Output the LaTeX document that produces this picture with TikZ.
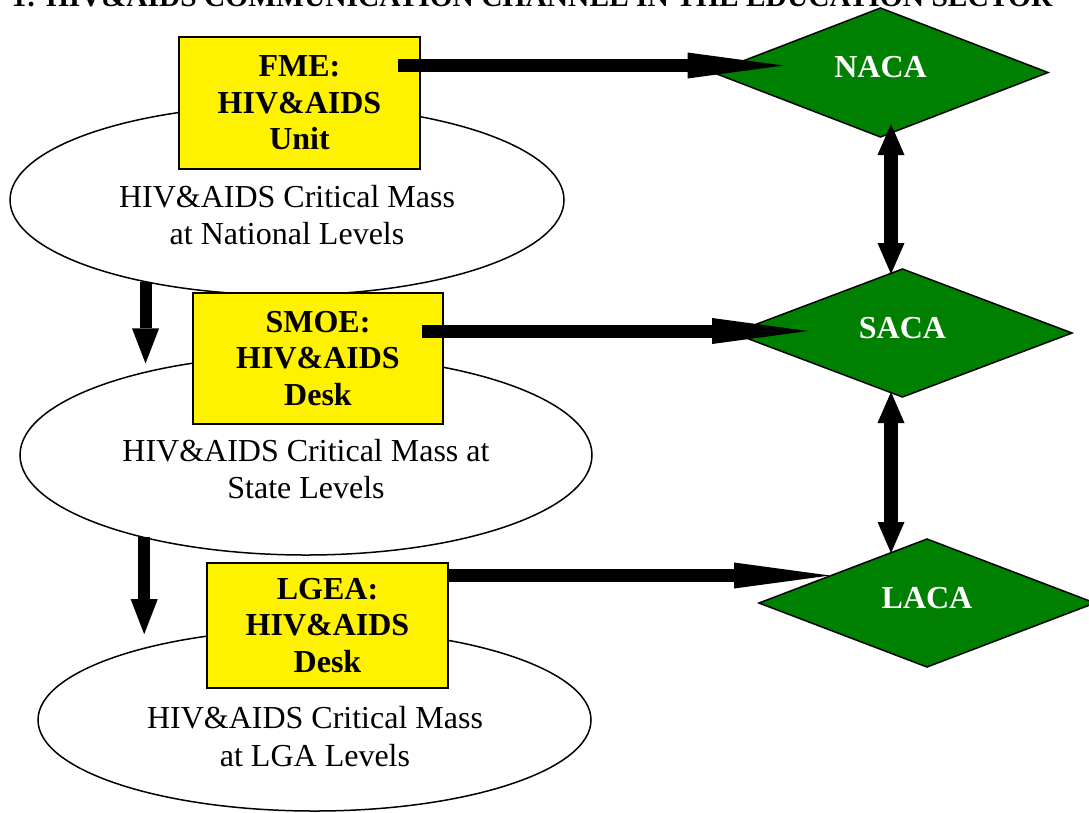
\documentclass[tikz,border=0pt]{standalone}
\usepackage{fontspec}
\setmainfont{Liberation Serif}
\usetikzlibrary{shapes.geometric,arrows.meta,calc}
\definecolor{dgreen}{RGB}{0,128,0}
\begin{document}
\begin{tikzpicture}[x=1pt,y=-1pt,
 ybox/.style={draw=black,fill=yellow,line width=1.5pt,inner sep=0pt,outer sep=0pt,align=center,font=\fontsize{32}{36.5}\selectfont\bfseries},
 ell/.style={draw=black,fill=white,ellipse,line width=1.5pt,inner sep=0pt,outer sep=0pt},
 etext/.style={align=center,font=\fontsize{32}{37.5}\selectfont},
 dia/.style={diamond,draw=black,fill=dgreen,line width=1.5pt,inner sep=0pt,outer sep=0pt,text=white,font=\fontsize{32}{36}\selectfont\bfseries,text depth=11pt},
 harrow/.style={line width=13pt,-{Triangle[length=96pt,width=26pt,line width=0pt]}},
 darrow/.style={line width=14pt,{Triangle[length=31pt,width=27pt,line width=0pt]}-{Triangle[length=31pt,width=27pt,line width=0pt]}},
 varrow/.style={line width=12pt,-{Triangle[length=35pt,width=27pt,line width=0pt]}},
]
\useasboundingbox (0,0) rectangle (1089,812);
\clip (0,0) rectangle (1089,812);

% title (clipped at the top edge, as in the reference)
\node[font=\fontsize{29.5}{30}\selectfont\bfseries,anchor=base,inner sep=0pt] (title) at (532,6) {1: HIV\&AIDS COMMUNICATION CHANNEL IN THE EDUCATION SECTOR};

% ellipses
\node[ell,minimum width=554pt,minimum height=190pt] (e1) at (287,200) {};
\node[ell,minimum width=572pt,minimum height=200pt] (e2) at (306,455) {};
\node[ell,minimum width=553pt,minimum height=182pt] (e3) at (314.5,720) {};
\node[etext] (t1) at (287,215) {HIV\&AIDS Critical Mass\\at National Levels};
\node[etext] (t2) at (306,469) {HIV\&AIDS Critical Mass at\\State Levels};
\node[etext] (t3) at (315,736.5) {HIV\&AIDS Critical Mass\\at LGA Levels};

% yellow boxes
\node[ybox,minimum width=241pt,minimum height=132pt] (b1) at (299.5,103) {FME:\\HIV\&AIDS\\Unit};
\node[ybox,minimum width=250pt,minimum height=131pt] (b2) at (318,358.5) {SMOE:\\HIV\&AIDS\\Desk};
\node[ybox,minimum width=241pt,minimum height=125pt] (b3) at (327.5,625.5) {LGEA:\\HIV\&AIDS\\Desk};

% diamonds
\node[dia,minimum width=335pt,minimum height=129pt] (naca) at (880.5,72.5) {NACA};
\node[dia,minimum width=339pt,minimum height=128pt] (saca) at (902.5,333) {SACA};
\node[dia,minimum width=336pt,minimum height=128pt] (laca) at (927,603) {LACA};

% horizontal arrows
\draw[harrow] ([shift={(-22,-37.5)}]b1.east) -- ([shift={(70.5,-7)}]naca.west);
\draw[harrow] ([shift={(-21,-27.5)}]b2.east) -- ([shift={(75,-2)}]saca.west);
\draw[harrow] ([shift={(0,-50)}]b3.east) -- ([shift={(71,-27.5)}]laca.west);

% vertical double arrows
\draw[darrow] ([shift={(10.5,-13)}]naca.south) -- ([shift={(-11.5,5)}]saca.north);
\draw[darrow] ([shift={(-11.5,-5)}]saca.south) -- ([shift={(-36,14)}]laca.north);

% left down arrows
\draw[varrow,shorten >=8pt] (e1.210.4) -- (e1.210.4 |- e2.152.4);
\draw[varrow,shorten >=12.6pt] (e2.207.8) -- (e2.207.8 |- e3.156.3);
\end{tikzpicture}
\end{document}
